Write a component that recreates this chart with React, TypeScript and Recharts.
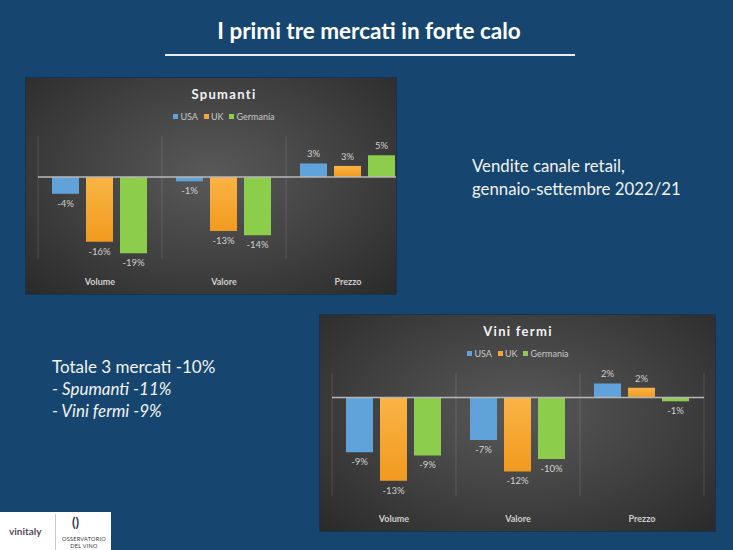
import { BarChart, Bar, XAxis, YAxis, CartesianGrid, ReferenceLine, LabelList } from "recharts";

const categorie = ["Volume", "Valore", "Prezzo"];
const mercati = ["USA", "UK", "Germania"];

const spumantiUSA = [-4.1, -1.05, 3.3];
const spumantiUK = [-15.8, -13.2, 2.7];
const spumantiGermania = [-18.6, -14.2, 5.3];

const viniUSA = [-8.9, -6.9, 2.3];
const viniUK = [-13.5, -12.0, 1.6];
const viniGermania = [-9.4, -10.0, -0.6];

const coloriMercati = ["#5fa3da", "#f6a630", "#8ccd4c"];
const FONT = "Lato, 'Open Sans', sans-serif";

function costruisciDati(usa: number[], uk: number[], ger: number[]) {
  return categorie.map((name, i) => ({ name, USA: usa[i], UK: uk[i], Germania: ger[i] }));
}

function EtichettaValore(props: any) {
  const { x, y, width, height, value } = props;
  const top = Math.min(y, y + height);
  const bottom = Math.max(y, y + height);
  const ty = value < 0 ? bottom + 13 : top - 6;
  return (
    <text x={x + width / 2} y={ty} textAnchor="middle" fontSize={9.5} fill="#d0d0d0" fontFamily={FONT}>
      {`${Math.round(value)}%`}
    </text>
  );
}

function TickCategoria(props: any) {
  const { x, y, payload } = props;
  return (
    <text x={x} y={y + 18} textAnchor="middle" fontSize={9} fontWeight={700} fill="#cfcfcf" fontFamily={FONT}>
      {payload.value}
    </text>
  );
}

interface GraficoProps {
  id: string;
  titolo: string;
  usa: number[];
  uk: number[];
  ger: number[];
  dominio: [number, number];
  left: number;
  top: number;
  boxWidth: number;
}

function GraficoMercati({ id, titolo, usa, uk, ger, dominio, left, top, boxWidth }: GraficoProps) {
  const dati = costruisciDati(usa, uk, ger);
  const W = 396;
  const H = 216;
  return (
    <div
      style={{
        position: "absolute",
        left,
        top,
        width: boxWidth,
        height: H,
        overflow: "hidden",
        background: "radial-gradient(ellipse at 50% 45%, #595959 0%, #404040 55%, #2a2a2a 100%)",
        boxShadow: "0 0 0 1px rgba(20,40,70,0.6)",
      }}
    >
      <div
        style={{
          position: "absolute",
          left: 0,
          width: W,
          top: 8,
          textAlign: "center",
          color: "#f2f2f2",
          fontFamily: FONT,
          fontWeight: 700,
          fontSize: 13,
          letterSpacing: 1.3,
        }}
      >
        {titolo}
      </div>
      <div
        style={{
          position: "absolute",
          left: 0,
          width: W,
          top: 33,
          display: "flex",
          justifyContent: "center",
          gap: 6,
          color: "#c8c8c8",
          fontFamily: FONT,
          fontSize: 9,
        }}
      >
        {mercati.map((m, i) => (
          <span key={m} style={{ display: "flex", alignItems: "center" }}>
            <span style={{ width: 5, height: 5, background: coloriMercati[i], marginRight: 2, display: "inline-block" }} />
            {m}
          </span>
        ))}
      </div>
      <div style={{ position: "absolute", left: 0, top: 0 }}>
        <BarChart
          width={W}
          height={H}
          data={dati}
          margin={{ top: 58, right: 12, left: 12, bottom: 5 }}
          barCategoryGap={14}
          barGap={7}
        >
          <defs>
            <linearGradient id={`${id}-uk`} x1="0" y1="0" x2="0" y2="1">
              <stop offset="0%" stopColor="#fbb445" />
              <stop offset="100%" stopColor="#f09a1f" />
            </linearGradient>
          </defs>
          <CartesianGrid
            horizontal={false}
            stroke="rgba(255,255,255,0.13)"
            verticalCoordinatesGenerator={({ offset }: any) =>
              [0, 1, 2, 3].map((i) => offset.left + (i * offset.width) / 3)
            }
          />
          <XAxis dataKey="name" axisLine={false} tickLine={false} tick={<TickCategoria />} interval={0} height={30} />
          <YAxis hide domain={dominio} allowDataOverflow />
          <ReferenceLine y={0} stroke="#b8b8b8" strokeWidth={1.5} />
          <Bar dataKey="USA" fill={coloriMercati[0]} isAnimationActive={false}>
            <LabelList dataKey="USA" content={<EtichettaValore />} />
          </Bar>
          <Bar dataKey="UK" fill={`url(#${id}-uk)`} isAnimationActive={false}>
            <LabelList dataKey="UK" content={<EtichettaValore />} />
          </Bar>
          <Bar dataKey="Germania" fill={coloriMercati[2]} isAnimationActive={false}>
            <LabelList dataKey="Germania" content={<EtichettaValore />} />
          </Bar>
        </BarChart>
      </div>
    </div>
  );
}

export default function App() {
  return (
    <div
      style={{
        position: "fixed",
        left: 0,
        top: 0,
        width: 733,
        height: 550,
        background: "#16466f",
        fontFamily: FONT,
        overflow: "hidden",
      }}
    >
      <div
        style={{
          position: "absolute",
          left: 0,
          width: 738,
          top: 17,
          textAlign: "center",
          color: "#ffffff",
          fontWeight: 700,
          fontSize: 22.5,
        }}
      >
        I primi tre mercati in forte calo
      </div>
      <div style={{ position: "absolute", left: 165, top: 54, width: 410, height: 2, background: "#e6edf4" }} />

      <GraficoMercati
        id="spu"
        titolo="Spumanti"
        usa={spumantiUSA}
        uk={spumantiUK}
        ger={spumantiGermania}
        dominio={[-20, 10]}
        left={26}
        top={78}
        boxWidth={370}
      />
      <GraficoMercati
        id="vin"
        titolo="Vini fermi"
        usa={viniUSA}
        uk={viniUK}
        ger={viniGermania}
        dominio={[-16, 4]}
        left={320}
        top={315}
        boxWidth={395}
      />

      <div style={{ position: "absolute", left: 472, top: 154, color: "#f2f2f2", fontSize: 16.8, lineHeight: "23px" }}>
        Vendite canale retail,
        <br />
        gennaio-settembre 2022/21
      </div>

      <div style={{ position: "absolute", left: 52, top: 356, color: "#f2f2f2", fontSize: 17, lineHeight: "22px" }}>
        Totale 3 mercati -10%
        <br />
        <i>- Spumanti -11%</i>
        <br />
        <i>- Vini fermi -9%</i>
      </div>

      <div style={{ position: "absolute", left: 0, top: 512, width: 111, height: 38, background: "#ffffff" }}>
        <div style={{ position: "absolute", left: 55, top: 2, width: 1, height: 36, background: "#c8c8c8" }} />
        <div style={{ position: "absolute", left: 9, top: 13, fontSize: 10, fontWeight: 700, color: "#5b4a5c" }}>
          vinitaly
        </div>
        <div style={{ position: "absolute", left: 72, top: 2, fontSize: 13, fontWeight: 700, color: "#1f3550" }}>
          ()
        </div>
        <div style={{ position: "absolute", left: 56, top: 24, width: 56, textAlign: "center", fontSize: 5.5, color: "#333", letterSpacing: 0.3, lineHeight: "7px" }}>
          OSSERVATORIO
          <br />
          DEL VINO
        </div>
      </div>
    </div>
  );
}
